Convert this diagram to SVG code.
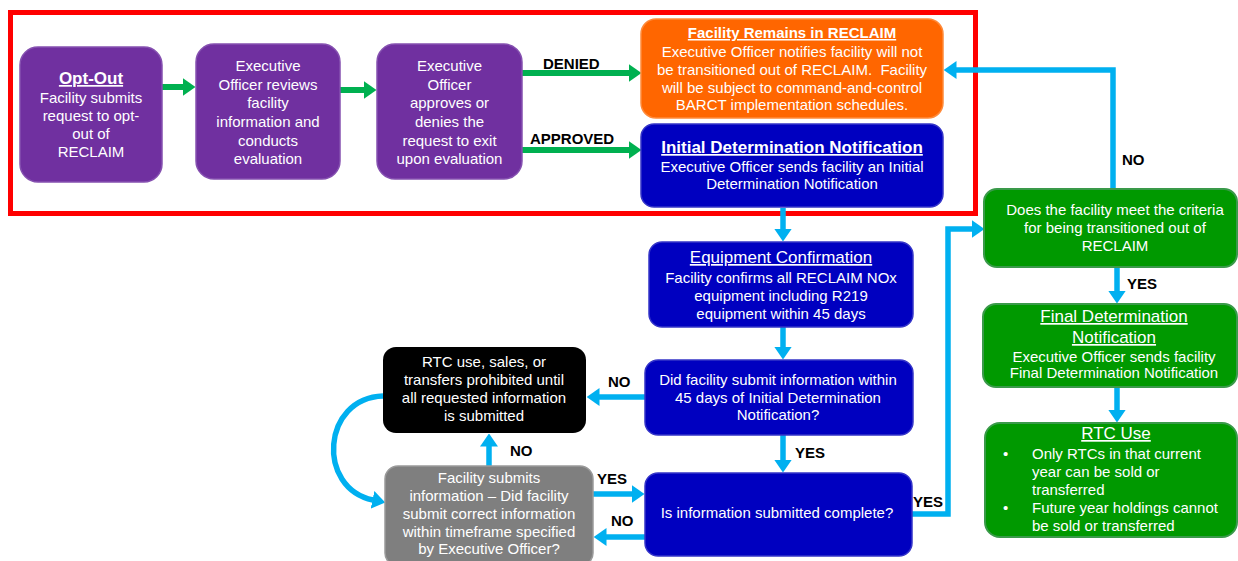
<svg xmlns="http://www.w3.org/2000/svg" width="1238" height="561" viewBox="0 0 1238 561">
<style>
text{font-family:"Liberation Sans",Arial,sans-serif;fill:#fff;font-size:15px;text-anchor:middle}
.lbl{fill:#000;font-weight:bold;text-anchor:start}
.t{font-weight:bold;text-decoration:underline}
.u{text-decoration:underline;font-size:17px}
.st{text-anchor:start}
.cy{stroke:#00B0F0;stroke-width:5.5;fill:none}
.gr{stroke:#00B050;stroke-width:6;fill:none}
.purple{fill:#7030A0;stroke:#8550B0;stroke-width:1.5}
.blue{fill:#0000C0;stroke:#3535C8;stroke-width:1.5}
.green{fill:#009900;stroke:#3A9A4A;stroke-width:2}
</style>
<defs>
<marker id="ac" viewBox="0 0 13 18" markerUnits="userSpaceOnUse" markerWidth="13" markerHeight="18" refX="0.5" refY="9" orient="auto"><path d="M0,0 L13,9 L0,18 z" fill="#00B0F0"/></marker>
<marker id="ag" viewBox="0 0 13 18" markerUnits="userSpaceOnUse" markerWidth="13" markerHeight="18" refX="0.5" refY="9" orient="auto"><path d="M0,0 L13,9 L0,18 z" fill="#00B050"/></marker>
</defs>
<rect x="0" y="0" width="1238" height="561" fill="#fff"/>
<rect x="10.5" y="12.5" width="965" height="201" fill="none" stroke="#FF0000" stroke-width="5"/>
<g id="connectors">
<path class="gr" d="M162,87 H183" marker-end="url(#ag)"/>
<path class="gr" d="M340,90 H364" marker-end="url(#ag)"/>
<path class="gr" d="M522,73 H629" marker-end="url(#ag)"/>
<path class="gr" d="M522,150 H629" marker-end="url(#ag)"/>
<path class="cy" d="M783,208 V229" marker-end="url(#ac)"/>
<path class="cy" d="M783,327 V347" marker-end="url(#ac)"/>
<path class="cy" d="M645,397 H599" marker-end="url(#ac)"/>
<path class="cy" d="M783,435 V460" marker-end="url(#ac)"/>
<path class="cy" d="M489,466 V446" marker-end="url(#ac)"/>
<path class="cy" d="M593,494 H632" marker-end="url(#ac)"/>
<path class="cy" d="M645,537 H606" marker-end="url(#ac)"/>
<path class="cy" d="M912,514 H948 V229 H972" marker-end="url(#ac)"/>
<path class="cy" d="M1113,189 V70 H956" marker-end="url(#ac)"/>
<path class="cy" d="M1117,267 V291" marker-end="url(#ac)"/>
<path class="cy" d="M1117,387 V410" marker-end="url(#ac)"/>
<path class="cy" d="M383,396 C322,398 316,488 373,500" marker-end="url(#ac)"/>
<text class="lbl" x="543" y="69">DENIED</text>
<text class="lbl" x="530" y="144">APPROVED</text>
<text class="lbl" x="1122" y="165">NO</text>
<text class="lbl" x="1127" y="289">YES</text>
<text class="lbl" x="608" y="387">NO</text>
<text class="lbl" x="795" y="458">YES</text>
<text class="lbl" x="510" y="456">NO</text>
<text class="lbl" x="597" y="484">YES</text>
<text class="lbl" x="611" y="526">NO</text>
<text class="lbl" x="913" y="507">YES</text>
</g>
<g id="optout">
<rect class="purple" x="20" y="47" width="142" height="135" rx="18"/>
<text x="91" y="84" class="t" style="font-size:17px">Opt-Out</text>
<text x="91" y="103">Facility submits</text>
<text x="91" y="121">request to opt-</text>
<text x="91" y="139">out of</text>
<text x="91" y="157">RECLAIM</text>
</g>
<g id="review">
<rect class="purple" x="196" y="44" width="144" height="135" rx="18"/>
<g style="font-size:15.5px">
<text x="268" y="71">Executive</text>
<text x="268" y="90">Officer reviews</text>
<text x="268" y="108">facility</text>
<text x="268" y="127">information and</text>
<text x="268" y="146">conducts</text>
<text x="268" y="164">evaluation</text>
</g>
</g>
<g id="approve">
<rect class="purple" x="377" y="44" width="145" height="135" rx="18"/>
<g style="font-size:15.5px">
<text x="449.5" y="71">Executive</text>
<text x="449.5" y="90">Officer</text>
<text x="449.5" y="108">approves or</text>
<text x="449.5" y="127">denies the</text>
<text x="449.5" y="146">request to exit</text>
<text x="449.5" y="164">upon evaluation</text>
</g>
</g>
<g id="remains">
<rect x="641" y="19" width="302" height="99" rx="15" fill="#FF6600" stroke="#FF8A3A" stroke-width="1.5"/>
<text x="792" y="38" class="t">Facility Remains in RECLAIM</text>
<text x="792" y="57">Executive Officer notifies facility will not</text>
<text x="792" y="75" xml:space="preserve">be transitioned out of RECLAIM.  Facility</text>
<text x="792" y="93">will be subject to command-and-control</text>
<text x="792" y="110">BARCT implementation schedules.</text>
</g>
<g id="initial">
<rect class="blue" x="641" y="124" width="302" height="83" rx="13"/>
<text x="792" y="153" class="t" style="font-size:17px">Initial Determination Notification</text>
<text x="792" y="172">Executive Officer sends facility an Initial</text>
<text x="792" y="189">Determination Notification</text>
</g>
<g id="equipment">
<rect class="blue" x="649" y="242" width="264" height="85" rx="13"/>
<text x="781" y="263" class="u">Equipment Confirmation</text>
<text x="781" y="283">Facility confirms all RECLAIM NOx</text>
<text x="781" y="301">equipment including R219</text>
<text x="781" y="319">equipment within 45 days</text>
</g>
<g id="didsubmit">
<rect class="blue" x="645" y="360" width="268" height="75" rx="13"/>
<text x="778" y="385">Did facility submit information within</text>
<text x="778" y="403">45 days of Initial Determination</text>
<text x="778" y="420">Notification?</text>
</g>
<g id="complete">
<rect class="blue" x="645" y="473" width="267" height="83" rx="13"/>
<text x="777" y="518">Is information submitted complete?</text>
</g>
<g id="prohibited">
<rect x="383" y="347" width="203" height="86" rx="13" fill="#000"/>
<text x="484" y="367">RTC use, sales, or</text>
<text x="484" y="385">transfers prohibited until</text>
<text x="484" y="403">all requested information</text>
<text x="484" y="421">is submitted</text>
</g>
<g id="resubmit">
<rect x="385" y="466" width="208" height="100" rx="13" fill="#7F7F7F" stroke="#9A9A9A" stroke-width="1.5"/>
<text x="489" y="483">Facility submits</text>
<text x="489" y="501">information – Did facility</text>
<text x="489" y="519">submit correct information</text>
<text x="489" y="537">within timeframe specified</text>
<text x="489" y="554">by Executive Officer?</text>
</g>
<g id="criteria">
<rect class="green" x="984" y="189" width="253" height="78" rx="13"/>
<text x="1115" y="215">Does the facility meet the criteria</text>
<text x="1115" y="233">for being transitioned out of</text>
<text x="1115" y="251">RECLAIM</text>
</g>
<g id="final">
<rect class="green" x="983" y="304" width="254" height="83" rx="13"/>
<text x="1114" y="322" class="u">Final Determination</text>
<text x="1114" y="343" class="u">Notification</text>
<text x="1114" y="362">Executive Officer sends facility</text>
<text x="1114" y="378">Final Determination Notification</text>
</g>
<g id="rtcuse">
<rect class="green" x="985" y="423" width="252" height="114" rx="15"/>
<text x="1116" y="439" class="u">RTC Use</text>
<text x="1003" y="459" class="st">•</text>
<text x="1032" y="459" class="st">Only RTCs in that current</text>
<text x="1032" y="477" class="st">year can be sold or</text>
<text x="1032" y="495" class="st">transferred</text>
<text x="1003" y="513" class="st">•</text>
<text x="1032" y="513" class="st">Future year holdings cannot</text>
<text x="1032" y="531" class="st">be sold or transferred</text>
</g>
</svg>
